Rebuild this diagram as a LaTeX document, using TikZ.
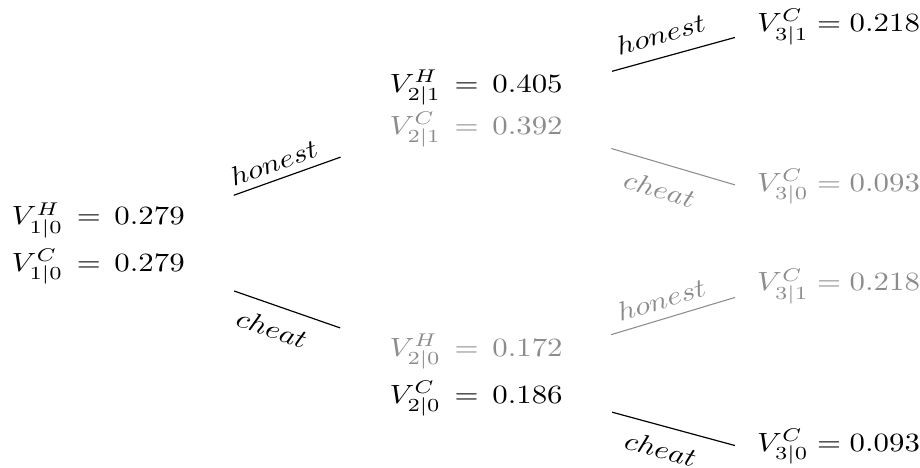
\documentclass[tikz,border=0pt]{standalone}
\usepackage{amsmath}
\usepackage{tikz}
\usetikzlibrary{positioning,calc}
\definecolor{faded}{HTML}{8C8C8C}

\begin{document}
\begin{tikzpicture}[
    value/.style={inner sep=0pt, align=left, xscale=1.17},
    leaf/.style={value, anchor=west},
    branch/.style={draw=black, line width=0.45pt},
    dimbranch/.style={draw=faded, line width=0.4pt},
    choice/.style={sloped, xscale=1.17, inner sep=3pt}
]
\useasboundingbox (0,0) rectangle (12.27,6.24);

\node[value] (root) at (1.31,2.99) {$V^H_{1|0} \,=\, 0.279$\\[3.3pt]$V^C_{1|0} \,=\, 0.279$};

\node[value] (up) at (6.35,4.79) {$V^H_{2|1} \,=\, 0.405$\\[1.4pt]\textcolor{faded}{$V^C_{2|1} \,=\, 0.392$}};
\node[value] (dn) at (6.35,1.235) {\textcolor{faded}{$V^H_{2|0} \,=\, 0.172$}\\[3.3pt]$V^C_{2|0} \,=\, 0.186$};

\node[leaf] (uu) at (10.09,5.88) {$V^C_{3|1} = 0.218$};
\node[leaf, text=faded] (ud) at (10.09,3.75) {$V^C_{3|0} = 0.093$};
\node[leaf, text=faded] (du) at (10.09,2.42) {$V^C_{3|1} = 0.218$};
\node[leaf] (dd) at (10.09,0.28) {$V^C_{3|0} = 0.093$};

\draw[branch, shorten <=1.92cm, shorten >=1.92cm] (root.center) -- node[choice, above, pos=0.48] {$honest$} (up.center);
\draw[branch, shorten <=1.92cm, shorten >=1.92cm] (root.center) -- node[choice, below=2pt, pos=0.48] {$cheat$} (dn.center);

\draw[branch, shorten <=1.88cm, shorten >=0.3cm] (up.center) -- node[choice, above=2pt, pos=0.68] {$honest$} (uu.base west);
\draw[dimbranch, shorten <=1.88cm, shorten >=0.3cm] (up.center) -- node[choice, below=3pt, pos=0.68, text=faded] {$cheat$} (ud.base west);

\draw[dimbranch, shorten <=1.88cm, shorten >=0.3cm] (dn.center) -- node[choice, above=0.5pt, pos=0.68, text=faded] {$honest$} (du.base west);
\draw[branch, shorten <=1.88cm, shorten >=0.3cm] (dn.center) -- node[choice, below=2pt, pos=0.68] {$cheat$} (dd.base west);

\end{tikzpicture}
\end{document}
